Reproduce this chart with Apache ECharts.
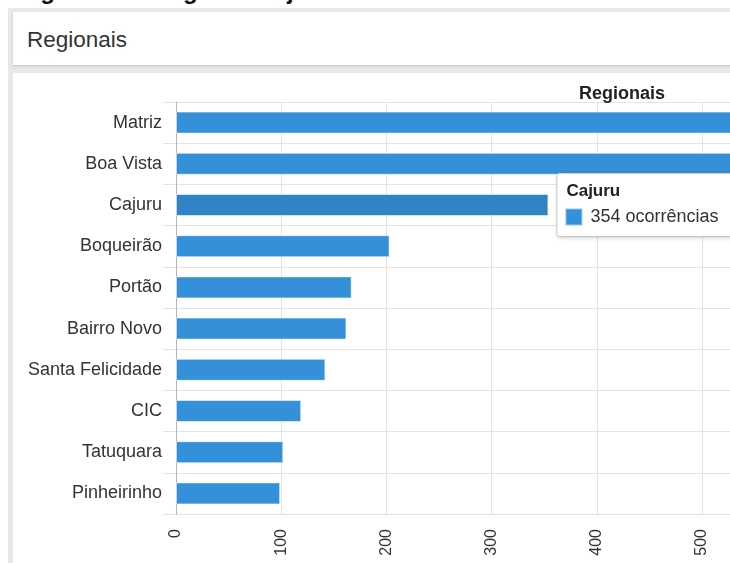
<!DOCTYPE html>
<html lang="pt-BR">
<head>
<meta charset="utf-8">
<title>Regionais</title>
<script src="https://cdn.jsdelivr.net/npm/echarts@6/dist/echarts.min.js"></script>
<style>
  html, body { margin: 0; padding: 0; width: 730px; height: 563px; overflow: hidden; background: #fff;
    font-family: "Liberation Sans", Arial, sans-serif; }
  #heading { position: absolute; left: 19px; top: -21px; font-size: 24px; line-height: 24px; font-weight: bold; color: #111; white-space: nowrap; }
  #backdrop { position: absolute; left: 8px; top: 8px; right: 0; bottom: 0; background: #e8e8e8; }
  #panelHead { position: absolute; left: 13px; top: 12px; width: 740px; height: 53px; background: #fff;
    box-shadow: 0 1px 2px rgba(0,0,0,0.18); }
  #panelHead span { position: absolute; left: 14px; top: 15px; font-size: 22.5px; line-height: 26px; color: #333; }
  #panelBody { position: absolute; left: 13px; top: 73px; width: 740px; height: 500px; background: #fff; overflow: hidden; }
  #chart { position: absolute; left: 0; top: 0; width: 1218px; height: 540px; }
</style>
</head>
<body>
<div id="heading">Figura 14 – Regionais ajustada</div>
<div id="backdrop"></div>
<div id="panelHead"><span>Regionais</span></div>
<div id="panelBody"><div id="chart"></div></div>
<script>
// Ocorrências por regional
const regionais = ['Matriz', 'Boa Vista', 'Cajuru', 'Boqueirão', 'Portão', 'Bairro Novo', 'Santa Felicidade', 'CIC', 'Tatuquara', 'Pinheirinho'];
const ocorrencias = [915, 640, 354, 203, 167, 162, 142, 119, 102, 99];
const destaque = 'Cajuru';
const ticksX = { min: 0, max: 1000, interval: 100 };

const corBarra = '#3490d8';
const corDestaque = '#3083c4';

const chart = echarts.init(document.getElementById('chart'), null, { renderer: 'canvas' });

const dados = regionais.map((nome, i) => {
  const item = { value: ocorrencias[i], name: nome };
  if (nome === destaque) {
    item.itemStyle = { color: corDestaque };
    item.label = {
      show: true,
      position: 'right',
      distance: 9,
      align: 'left',
      backgroundColor: '#fff',
      borderColor: '#d6d6d6',
      borderWidth: 1,
      borderRadius: 2,
      shadowColor: 'rgba(0,0,0,0.15)',
      shadowBlur: 4,
      shadowOffsetX: 1,
      shadowOffsetY: 1,
      padding: [6, 14, 4, 9],
      formatter: '{t|{b}}\n{m|}{v|{c} ocorrências}',
      rich: {
        t: { fontFamily: 'Liberation Sans', fontSize: 17, fontWeight: 'bold', color: '#222', lineHeight: 22 },
        m: { width: 15, height: 15, backgroundColor: corBarra, borderColor: '#9cc8ec', borderWidth: 1, lineHeight: 30 },
        v: { fontFamily: 'Liberation Sans', fontSize: 18, color: '#333', lineHeight: 30, padding: [0, 0, 0, 9] }
      }
    };
  }
  return item;
});

chart.setOption({
  animation: false,
  title: {
    text: 'Regionais',
    left: 'center',
    top: 7,
    textStyle: { fontFamily: 'Liberation Sans', fontSize: 18, fontWeight: 'bold', color: '#222' }
  },
  grid: { left: 163, top: 29, width: 1052, height: 412, containLabel: false, outerBoundsMode: 'none' },
  xAxis: {
    type: 'value',
    min: ticksX.min,
    max: ticksX.max,
    interval: ticksX.interval,
    axisLine: { show: false },
    axisTick: { show: false },
    splitLine: { show: true, lineStyle: { color: '#e3e3e3', width: 1 } },
    axisLabel: { rotate: 90, margin: 15, fontFamily: 'Liberation Sans', fontSize: 16, color: '#333' }
  },
  yAxis: {
    type: 'category',
    data: regionais,
    inverse: true,
    axisLine: { show: true, lineStyle: { color: '#b5b5b5', width: 1 } },
    axisTick: { show: true, length: 13, lineStyle: { color: '#e3e3e3' } },
    splitLine: { show: true, lineStyle: { color: '#e3e3e3', width: 1 } },
    axisLabel: { margin: 14, fontFamily: 'Liberation Sans', fontSize: 18, color: '#333' }
  },
  series: [{
    type: 'bar',
    data: dados,
    barWidth: 22,
    itemStyle: { color: corBarra, borderColor: 'rgba(255,255,255,0.55)', borderWidth: 1 }
  }]
});
</script>
</body>
</html>
